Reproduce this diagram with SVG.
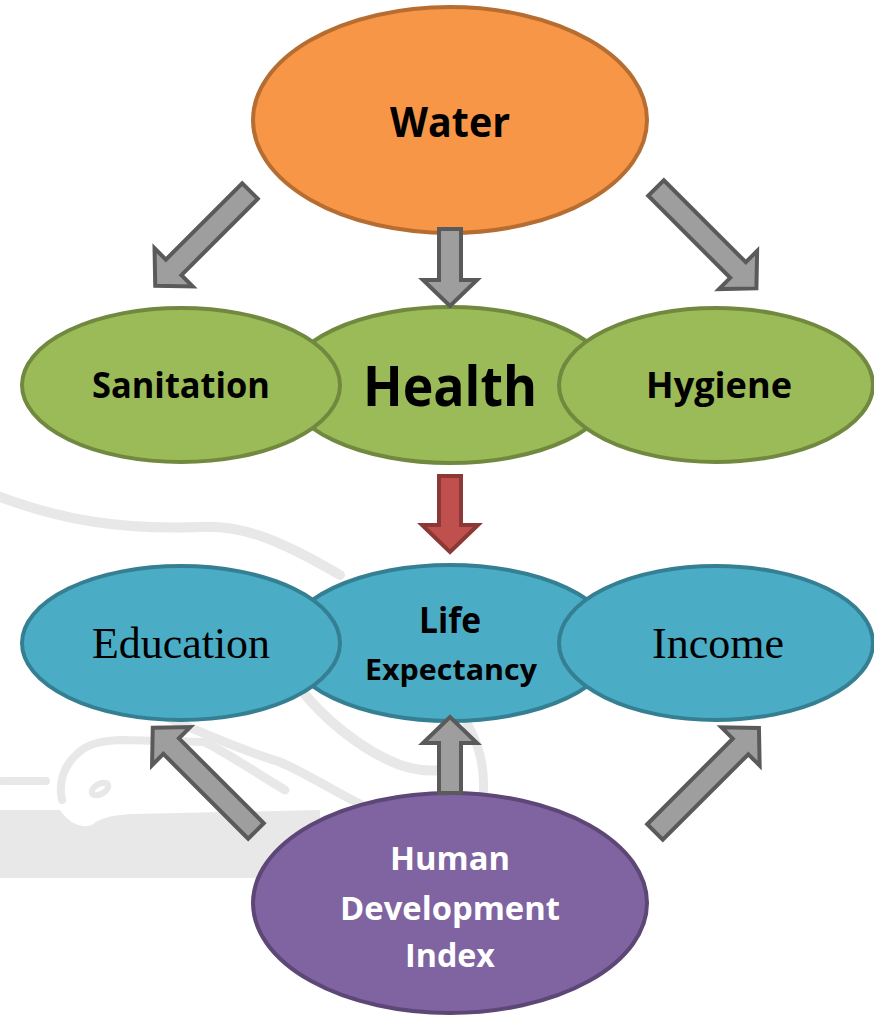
<svg xmlns="http://www.w3.org/2000/svg" width="874" height="1018" viewBox="0 0 874 1018">
  <style>
    .wm { fill: none; stroke: #E8E8E8; stroke-linecap: round; stroke-linejoin: round; }
    .wmfill { fill: #E8E8E8; stroke: none; }
    .node ellipse { stroke-width: 4; }
    .orange { fill: #F79646; stroke: #B66D31; }
    .green { fill: #9BBB59; stroke: #71893F; }
    .blue { fill: #4BACC6; stroke: #357F93; }
    .purple { fill: #8064A2; stroke: #5C4776; }
    .sans { font-family: "Open Sans", "Liberation Sans", sans-serif; font-weight: 700; text-anchor: middle; fill: #000; }
    .serif { font-family: "Liberation Serif", "DejaVu Serif", serif; text-anchor: middle; fill: #000; }
    .white { fill: #FFFFFF; }
    .arrow { fill: #9E9E9E; stroke: #5A5A5A; stroke-width: 4; stroke-linejoin: miter; }
    .arrow.red { fill: #C0504D; stroke: #8C3836; }
  </style>

  <rect width="874" height="1018" fill="#FFFFFF"/>

  <!-- faint background artwork -->
  <g id="background">
    <path class="wm" stroke-width="10" d="M -5 495 C 60 520 120 530 200 527 C 240 525 275 537 340 575"/>
    <path class="wmfill" d="M 0 810 L 60 810 C 68 822 80 829 92 825 C 100 818 112 815 132 814 L 320 810 L 320 878 L 0 878 Z"/>
    <path class="wm" stroke-width="8" d="M 2 781 L 46 781"/>
    <path class="wm" stroke-width="8" d="M 62 800 C 58 782 64 765 78 753 C 88 744 100 741 120 740 L 205 742"/>
    <ellipse class="wm" stroke-width="6" cx="100" cy="789" rx="9" ry="5" transform="rotate(-30 100 789)"/>
    <path class="wm" stroke-width="9" d="M 168 718 C 200 732 240 750 280 762 C 310 775 340 795 368 808"/>
    <path class="wm" stroke-width="9" d="M 205 742 C 230 755 255 772 285 790"/>
    <path class="wm" stroke-width="10" d="M 300 688 C 320 715 360 750 400 765 C 418 771 432 771 440 770"/>
    <path class="wm" stroke-width="9" d="M 462 715 C 478 740 486 765 483 800"/>
  </g>

  <g id="water" class="node">
    <ellipse class="orange" cx="450" cy="120" rx="197" ry="113"/>
    <text class="sans" x="450" y="137" font-size="42" textLength="120" lengthAdjust="spacingAndGlyphs">Water</text>
  </g>

  <g id="health" class="node">
    <ellipse class="green" cx="450" cy="385" rx="165" ry="78"/>
    <text class="sans" x="450" y="406" font-size="56" textLength="174" lengthAdjust="spacingAndGlyphs">Health</text>
  </g>
  <g id="sanitation" class="node">
    <ellipse class="green" cx="181" cy="385" rx="159" ry="77"/>
    <text class="sans" x="181" y="398" font-size="35" textLength="178" lengthAdjust="spacingAndGlyphs">Sanitation</text>
  </g>
  <g id="hygiene" class="node">
    <ellipse class="green" cx="716" cy="385" rx="157" ry="77"/>
    <text class="sans" x="719" y="398" font-size="35" textLength="146" lengthAdjust="spacingAndGlyphs">Hygiene</text>
  </g>

  <g id="life-expectancy" class="node">
    <ellipse class="blue" cx="450" cy="643" rx="165" ry="78"/>
    <text class="sans" x="450" y="633" font-size="36" textLength="62" lengthAdjust="spacingAndGlyphs">Life</text>
    <text class="sans" x="451" y="680" font-size="28" textLength="172" lengthAdjust="spacingAndGlyphs">Expectancy</text>
  </g>
  <g id="education" class="node">
    <ellipse class="blue" cx="181" cy="643" rx="159" ry="77"/>
    <text class="serif" x="181" y="658" font-size="44" textLength="178" lengthAdjust="spacingAndGlyphs">Education</text>
  </g>
  <g id="income" class="node">
    <ellipse class="blue" cx="716" cy="643" rx="157" ry="77"/>
    <text class="serif" x="718" y="658" font-size="44" textLength="132" lengthAdjust="spacingAndGlyphs">Income</text>
  </g>

  <g id="hdi" class="node">
    <ellipse class="purple" cx="450" cy="903" rx="197" ry="110"/>
    <text class="sans white" x="450" y="870" font-size="32" textLength="120" lengthAdjust="spacingAndGlyphs">Human</text>
    <text class="sans white" x="450" y="920" font-size="32" textLength="220" lengthAdjust="spacingAndGlyphs">Development</text>
    <text class="sans white" x="450" y="967" font-size="32" textLength="90" lengthAdjust="spacingAndGlyphs">Index</text>
  </g>

  <!-- block arrows, drawn along +x and rotated into place -->
  <g id="connectors">
    <polygon class="arrow" transform="translate(250 191) rotate(135)" points="0,-11 108,-11 108,-27 134,0 108,27 108,11 0,11"/>
    <polygon class="arrow" transform="translate(450 229) rotate(90)" points="0,-11 51,-11 51,-27 77,0 51,27 51,11 0,11"/>
    <polygon class="arrow" transform="translate(656 188) rotate(45)" points="0,-11 116,-11 116,-27 142,0 116,27 116,11 0,11"/>
    <polygon class="arrow red" transform="translate(450 476) rotate(90)" points="0,-11 49,-11 49,-28 76,0 49,28 49,11 0,11"/>
    <polygon class="arrow" transform="translate(256 831) rotate(-135)" points="0,-11 120,-11 120,-27 146,0 120,27 120,11 0,11"/>
    <polygon class="arrow" transform="translate(450 793) rotate(-90)" points="0,-11 50,-11 50,-27 76,0 50,27 50,11 0,11"/>
    <polygon class="arrow" transform="translate(655 832) rotate(-45)" points="0,-11 121,-11 121,-27 147,0 121,27 121,11 0,11"/>
  </g>
</svg>
